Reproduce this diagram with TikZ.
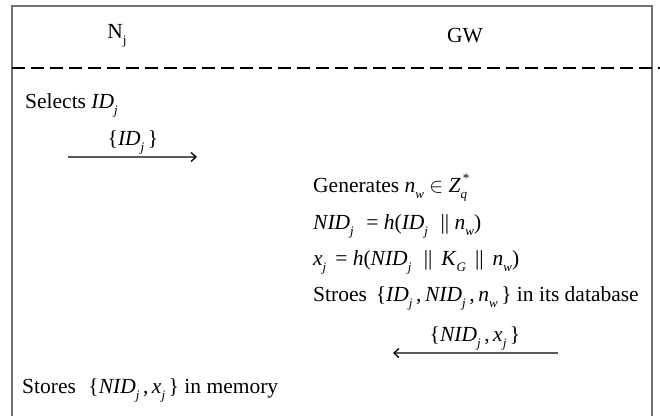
\documentclass[tikz,border=0pt]{standalone}
\usepackage{fontspec}
\setmainfont{Liberation Serif}
\usetikzlibrary{arrows.meta}
\newcommand{\Sb}[1]{\raisebox{-6pt}{\fontsize{13}{13}\selectfont\itshape #1}}
\newcommand{\Sbu}[1]{\raisebox{-6pt}{\fontsize{13}{13}\selectfont #1}}
\newcommand{\Sp}[1]{\raisebox{10pt}{\fontsize{13}{13}\selectfont #1}}
\newcommand{\V}[1]{\textit{#1}}
\begin{document}
\begin{tikzpicture}[x=1pt,y=-1pt,
  txt/.style={inner sep=0pt,font=\fontsize{21.5}{24}\selectfont},
  lefttxt/.style={txt,anchor=west},
  msg/.style={draw=black!65,line width=1.1pt,-{Straight Barb[length=5pt,width=9pt,line width=1.3pt,color=black]}}]
\useasboundingbox (0,0) rectangle (660,415);
% frame
\draw[black!55,line width=1.2pt] (12,420) -- (12,6) -- (652,6) -- (652,420);
\draw[black,line width=2pt,dash pattern=on 13pt off 6pt] (12,68) -- (662,68);
% headers
\node[txt] (nj) at (117,36) {N\Sbu{j}};
\node[txt] (gw) at (465,36) {GW};
% node side
\node[lefttxt] (sel) at (25,105) {Selects \V{ID}\Sb{j}};
\node[txt] (m1) at (133,142) {\{\V{ID}\Sb{j}\,\}};
\coordinate (a1s) at (68,157);
\coordinate (a1e) at (197,157);
\draw[msg] (a1s) -- (a1e);
% gateway side
\node[lefttxt] (g1) at (313,188) {Generates \V{n}\Sb{w} $\in$ \V{Z}\rlap{\Sb{q}}\Sp{\,*}};
\node[lefttxt] (g2) at (313,226) {\V{NID}\Sb{j}\,\, = \V{h}(\V{ID}\Sb{j}\,\, || \V{n}\Sb{w})};
\node[lefttxt] (g3) at (313,262) {\V{x}\Sb{j}\, = \V{h}(\V{NID}\Sb{j}\,\, ||\, \V{K}\Sb{G}\, ||\, \V{n}\Sb{w})};
\node[lefttxt] (g4) at (313,298) {Stroes\, \{\V{ID}\Sb{j}\,,\,\V{NID}\Sb{j}\,,\,\V{n}\Sb{w}\,\} in its database};
\node[txt] (m2) at (475,338) {\{\V{NID}\Sb{j}\,,\,\V{x}\Sb{j}\,\}};
\coordinate (a2s) at (558,353);
\coordinate (a2e) at (393,353);
\draw[msg] (a2s) -- (a2e);
\node[lefttxt] (st) at (22,390) {Stores\,\, \{\V{NID}\Sb{j}\,,\,\V{x}\Sb{j}\,\} in memory};
\end{tikzpicture}
\end{document}
